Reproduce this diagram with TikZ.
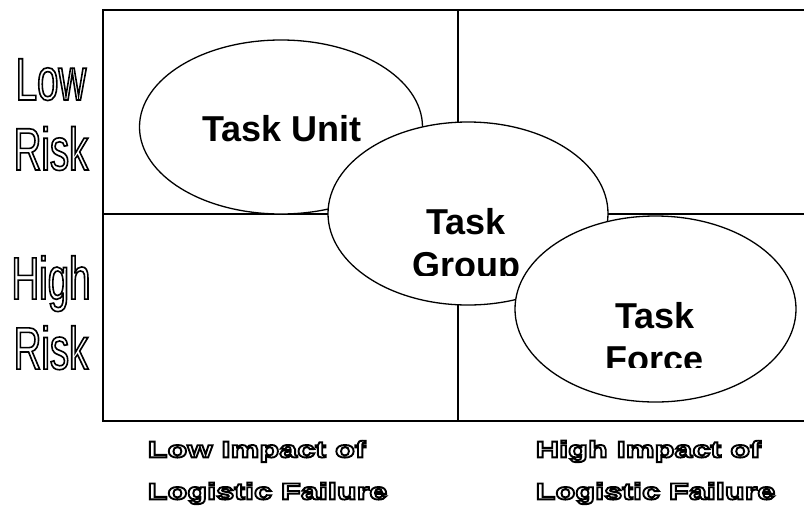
\documentclass[tikz,border=0pt]{standalone}
\usepackage{fontspec}
\setmainfont{Liberation Sans}
\newfontfamily\narrowfont[FakeStretch=0.64]{Liberation Sans}
\newfontfamily\widefont[FakeStretch=1.41]{Liberation Sans Bold}
\newcommand\outlinedtext[2]{\special{pdf:literal direct 1 Tr #1 w}#2\special{pdf:literal direct 0 Tr}}
\usetikzlibrary{shapes.geometric}
\begin{document}
\begin{tikzpicture}[x=1pt,y=-1pt,
  frame/.style={line width=2pt, line cap=rect},
  bubble/.style={ellipse, draw, fill=white, line width=1.3pt, inner sep=0pt},
  bubbletext/.style={font=\fontsize{36}{43}\selectfont\bfseries, align=center, anchor=north, inner sep=0pt},
  risklabel/.style={font=\narrowfont\fontsize{60}{70}\selectfont, align=center, anchor=north, inner sep=0pt},
  impactlabel/.style={font=\widefont\fontsize{23}{42}\selectfont, align=left, anchor=north west, inner sep=0pt}]
\useasboundingbox[fill=white] (0,0) rectangle (804,515);
% frame
\coordinate (tl) at (103,10);
\coordinate (tr) at (805,10);
\coordinate (bl) at (103,421);
\coordinate (br) at (805,421);
\coordinate (mt) at (458,10);
\coordinate (mb) at (458,421);
\coordinate (ml) at (103,214);
\coordinate (mr) at (805,214);
\draw[frame] (tr) -- (tl) -- (bl) -- (br);
\draw[frame] (mt) -- (mb);
\draw[frame] (ml) -- (mr);
% side labels
\node[risklabel] (lowrisk) at (51,58.5) {\outlinedtext{1.6}{Low}\\\outlinedtext{1.6}{Risk}};
\node[risklabel] (highrisk) at (51,255.5) {\outlinedtext{1.6}{High}\\\outlinedtext{1.6}{Risk}};
\node[impactlabel] (lowimpact) at (147.5,440.5) {\outlinedtext{1.9}{Low Impact of}\\\outlinedtext{1.9}{Logistic Failure}};
\node[impactlabel] (highimpact) at (535.5,440.5) {\outlinedtext{1.9}{High Impact of}\\\outlinedtext{1.9}{Logistic Failure}};
% bubbles
\node[bubble, minimum width=283pt, minimum height=174pt] (unit) at (281,127) {};
\node[bubbletext] (unittext) at (282,115) {Task Unit};
\node[bubble, minimum width=280pt, minimum height=183pt] (group) at (468,213.5) {};
\begin{scope}
  \clip (380,190) rectangle (560,275);
  \node[bubbletext] (grouptext) at (466,208) {Task\\Group};
\end{scope}
\node[bubble, minimum width=281pt, minimum height=186pt] (force) at (655.5,309) {};
\begin{scope}
  \clip (560,290) rectangle (760,367);
  \node[bubbletext] (forcetext) at (655,302) {Task\\Force};
\end{scope}
\end{tikzpicture}
\end{document}
